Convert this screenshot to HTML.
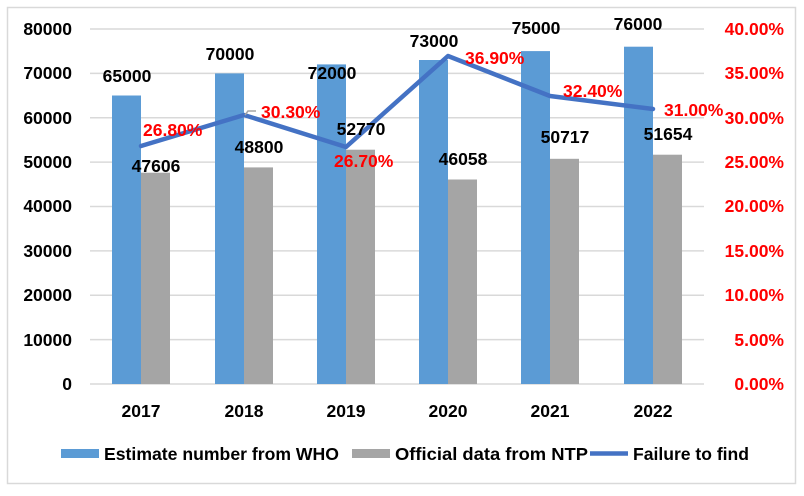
<!DOCTYPE html>
<html><head><meta charset="utf-8"><style>
body{margin:0;background:#fff}
svg text{font-family:"Liberation Sans",sans-serif;font-weight:bold}
</style></head><body>
<svg width="804" height="491" xmlns="http://www.w3.org/2000/svg">
<rect x="7.5" y="7.5" width="788" height="476" fill="#fff" stroke="#d9d9d9" stroke-width="1.5"/>
<g stroke="#d9d9d9" stroke-width="1.5">
<line x1="90" x2="704" y1="29" y2="29"/><line x1="90" x2="704" y1="73.4" y2="73.4"/>
<line x1="90" x2="704" y1="117.8" y2="117.8"/><line x1="90" x2="704" y1="162.1" y2="162.1"/>
<line x1="90" x2="704" y1="206.5" y2="206.5"/><line x1="90" x2="704" y1="250.9" y2="250.9"/>
<line x1="90" x2="704" y1="295.3" y2="295.3"/><line x1="90" x2="704" y1="339.6" y2="339.6"/>
<line x1="90" x2="704" y1="384" y2="384"/>
</g>
<g font-size="17.5" text-anchor="end" fill="#000">
<text x="72" y="35">80000</text><text x="72" y="79">70000</text><text x="72" y="124">60000</text>
<text x="72" y="168">50000</text><text x="72" y="212">40000</text><text x="72" y="257">30000</text>
<text x="72" y="301">20000</text><text x="72" y="346">10000</text><text x="72" y="390">0</text>
</g>
<g font-size="17.5" fill="#ff0000" text-anchor="end">
<text x="784" y="35">40.00%</text><text x="784" y="79">35.00%</text><text x="784" y="124">30.00%</text>
<text x="784" y="168">25.00%</text><text x="784" y="212">20.00%</text><text x="784" y="257">15.00%</text>
<text x="784" y="301">10.00%</text><text x="784" y="346">5.00%</text><text x="784" y="390">0.00%</text>
</g>
<g fill="#5b9bd5">
<rect x="112" y="95.5" width="29" height="288.5"/>
<rect x="215" y="73.4" width="29" height="310.6"/>
<rect x="317" y="64.4" width="29" height="319.6"/>
<rect x="419" y="60" width="29" height="324"/>
<rect x="521" y="51.1" width="29" height="332.9"/>
<rect x="624" y="46.7" width="29" height="337.3"/>
</g>
<g fill="#a5a5a5">
<rect x="141" y="172.7" width="29" height="211.3"/>
<rect x="244" y="167.4" width="29" height="216.6"/>
<rect x="346" y="149.7" width="29" height="234.3"/>
<rect x="448" y="179.5" width="29" height="204.5"/>
<rect x="550" y="158.8" width="29" height="225.2"/>
<rect x="653" y="154.7" width="29" height="229.3"/>
</g>
<polyline points="141,146 244,115 346,147 448,56 550,96 653,109" fill="none" stroke="#4472c4" stroke-width="4.5" stroke-linejoin="round" stroke-linecap="round"/>
<polyline points="245,115 248,111 256,111" fill="none" stroke="#a5a5a5" stroke-width="1.5"/>
<g font-size="17.5" fill="#000" text-anchor="middle">
<text x="127" y="82">65000</text><text x="230" y="60">70000</text><text x="332" y="79">72000</text>
<text x="434" y="47">73000</text><text x="536" y="34">75000</text><text x="638" y="30">76000</text>
<text x="156" y="172">47606</text><text x="259" y="153">48800</text><text x="361" y="135">52770</text>
<text x="463" y="165">46058</text><text x="565" y="143">50717</text><text x="668" y="140">51654</text>
</g>
<g font-size="17.5" fill="#ff0000">
<text x="143" y="136">26.80%</text><text x="261" y="118">30.30%</text><text x="334" y="167">26.70%</text>
<text x="465" y="64">36.90%</text><text x="563" y="97">32.40%</text><text x="664" y="116">31.00%</text>
</g>
<g font-size="17.5" fill="#000" text-anchor="middle">
<text x="141" y="417">2017</text><text x="244" y="417">2018</text><text x="346" y="417">2019</text>
<text x="448" y="417">2020</text><text x="550" y="417">2021</text><text x="653" y="417">2022</text>
</g>
<rect x="61" y="449" width="38" height="9" fill="#5b9bd5"/>
<text x="104" y="460" font-size="17.5" textLength="235" lengthAdjust="spacingAndGlyphs">Estimate number from WHO</text>
<rect x="352" y="449" width="38" height="9" fill="#a5a5a5"/>
<text x="395" y="460" font-size="17.5" textLength="193" lengthAdjust="spacingAndGlyphs">Official data from NTP</text>
<line x1="590" x2="628" y1="453.5" y2="453.5" stroke="#4472c4" stroke-width="4.5"/>
<text x="633" y="460" font-size="17.5" textLength="116" lengthAdjust="spacingAndGlyphs">Failure to find</text>
</svg>
</body></html>
